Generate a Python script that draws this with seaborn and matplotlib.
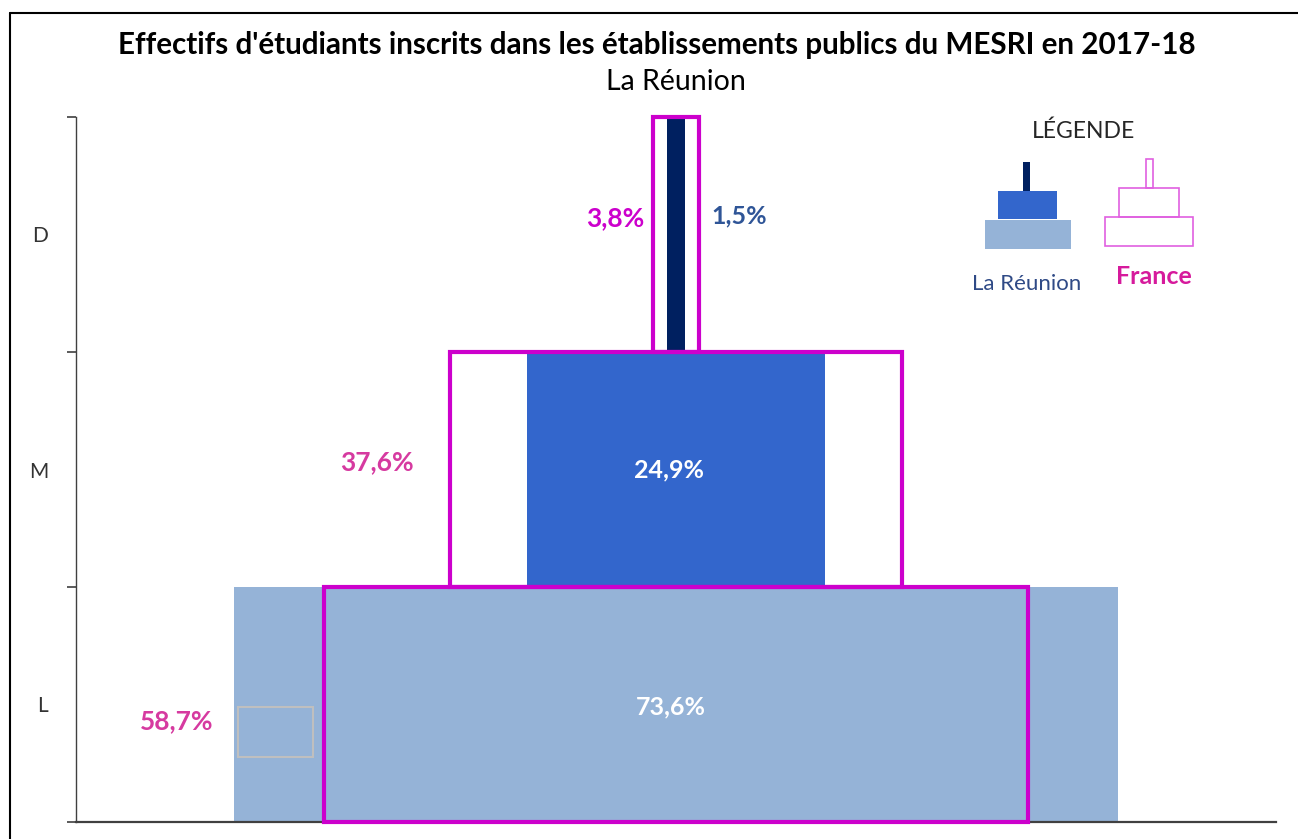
import matplotlib
matplotlib.use("Agg")
import matplotlib.pyplot as plt
from matplotlib.patches import Rectangle
from matplotlib.lines import Line2D
import seaborn as sns
import pandas as pd
import numpy as np

# data
levels = ["D", "M", "L"]
reunion = [1.5, 24.9, 73.6]
france = [3.8, 37.6, 58.7]
reunion_labels = ["1,5%", "24,9%", "73,6%"]
france_labels = ["3,8%", "37,6%", "58,7%"]
reunion_colors = ["#002060", "#3366CC", "#95B3D7"]
france_color = "#CC00CC"

sns.set_style("white")
plt.rcParams["font.family"] = ["Lato", "DejaVu Sans"]

W, H = 1298, 839
fig = plt.figure(figsize=(W / 100, H / 100), dpi=100)
ax = fig.add_axes([76 / W, 1 - 822 / H, 1200 / W, 705 / H])

df = pd.DataFrame({"niveau": levels, "part": reunion})
sns.barplot(data=df, y="niveau", x="part", hue="niveau", palette=reunion_colors,
            saturation=1, width=1.0, orient="h", legend=False, ax=ax, linewidth=0)
# centre the bars on 0
for p in ax.patches:
    p.set_x(-p.get_width() / 2)

# France outlines
fr = np.array(france)
ax.barh(np.arange(len(levels)), fr, left=-fr / 2, height=1.0, fill=False,
        edgecolor=france_color, linewidth=3, clip_on=False, zorder=3)

ax.set_xlim(-50, 50)
ax.set_ylim(2.5, -0.5)
ax.set_xlabel("")
ax.set_ylabel("")
ax.set_xticks([])
ax.set_yticks([-0.5, 0.5, 1.5, 2.5])
ax.set_yticklabels([])
ax.set_yticks([0, 1, 2], minor=True)
ax.set_yticklabels(levels, minor=True, fontsize=15, color="#333333")
ax.tick_params(axis="y", which="major", length=6.5, width=1.2, color="#404040", left=True)
ax.tick_params(axis="y", which="minor", length=0, pad=20)
sns.despine(ax=ax, top=True, right=True)
ax.spines["left"].set_color("#404040")
ax.spines["left"].set_linewidth(1.0)
ax.spines["bottom"].set_color("#404040")
ax.spines["bottom"].set_linewidth(1.6)

# value labels
fr_pos = [(-5.1, -0.07), (-24.9, 0.97), (-41.6, 2.07)]
fr_cols = ["#CC00CC", "#D63AA0", "#D63AA0"]
for (x, y), lab, c in zip(fr_pos, france_labels, fr_cols):
    ax.text(x, y, lab, ha="center", va="center", fontsize=19, fontweight="bold", color=c)
re_pos = [(5.3, -0.08), (-0.6, 1.0), (-0.4, 2.01)]
re_cols = ["#2F5597", "white", "white"]
for (x, y), lab, c in zip(re_pos, reunion_labels, re_cols):
    ax.text(x, y, lab, ha="center", va="center", fontsize=18, fontweight="bold", color=c)

# overlay in pixel coordinates: titles, legend, frame
ov = fig.add_axes([0, 0, 1, 1])
ov.set_xlim(0, W)
ov.set_ylim(H, 0)
ov.set_axis_off()

ov.text(657, 45, "Effectifs d'étudiants inscrits dans les établissements publics du MESRI en 2017-18",
        ha="center", va="center", fontsize=21.3, fontweight="bold", color="black")
ov.text(676, 82, "La Réunion", ha="center", va="center", fontsize=20.5, color="black")

ov.add_line(Line2D([10, 10], [13, H], color="black", lw=1.5))
ov.add_line(Line2D([10, W], [13, 13], color="black", lw=1.5))

# stray empty box from the original
ov.add_patch(Rectangle((238, 707), 75, 50, fill=False, edgecolor="#BFBFBF", lw=1.5))

# legend
ov.text(1084, 131, "LÉGENDE", ha="center", va="center", fontsize=16.5, color="#262626")
for (x0, y0, x1, y1), c in zip([(1023, 162, 1030, 191), (998, 191, 1057, 219), (985, 220, 1071, 249)],
                               reunion_colors):
    ov.add_patch(Rectangle((x0, y0), x1 - x0, y1 - y0, facecolor=c, edgecolor="none"))
for x0, y0, x1, y1 in [(1146, 159, 1153, 188), (1119, 188, 1179, 217), (1105, 217, 1193, 246)]:
    ov.add_patch(Rectangle((x0, y0), x1 - x0, y1 - y0, fill=False, edgecolor="#E060E0", lw=1.2))
ov.text(1027, 284, "La Réunion", ha="center", va="center", fontsize=16, color="#2F4A86")
ov.text(1154, 277, "France", ha="center", va="center", fontsize=18, fontweight="bold", color="#D61A9C")

fig.savefig("out.png", dpi=100)
